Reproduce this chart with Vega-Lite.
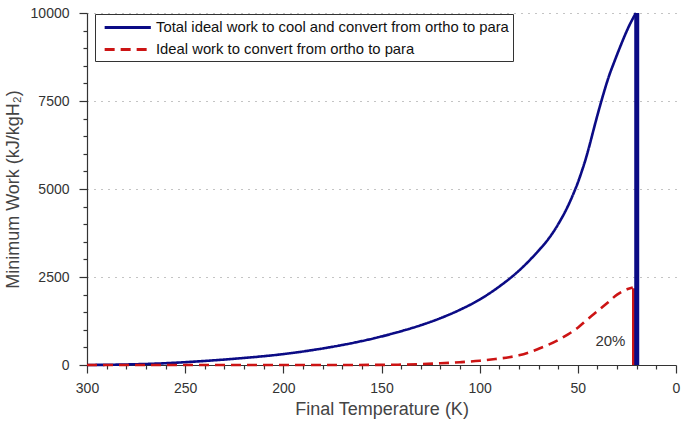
{
  "$schema": "https://vega.github.io/schema/vega-lite/v6.json",
  "width": 589,
  "height": 352,
  "autosize": {"type": "none"},
  "padding": {"left": 87, "top": 13, "right": 6, "bottom": 57},
  "background": "white",
  "config": {
    "view": {"stroke": null},
    "font": "Liberation Sans"
  },
  "datasets": {
    "curves": [
      {"series": "Total ideal work to cool and convert from ortho to para", "T": 300, "W": 0},
      {"series": "Total ideal work to cool and convert from ortho to para", "T": 280, "W": 15},
      {"series": "Total ideal work to cool and convert from ortho to para", "T": 260, "W": 50},
      {"series": "Total ideal work to cool and convert from ortho to para", "T": 250, "W": 80},
      {"series": "Total ideal work to cool and convert from ortho to para", "T": 240, "W": 115},
      {"series": "Total ideal work to cool and convert from ortho to para", "T": 220, "W": 200},
      {"series": "Total ideal work to cool and convert from ortho to para", "T": 200, "W": 310},
      {"series": "Total ideal work to cool and convert from ortho to para", "T": 180, "W": 470},
      {"series": "Total ideal work to cool and convert from ortho to para", "T": 160, "W": 680},
      {"series": "Total ideal work to cool and convert from ortho to para", "T": 150, "W": 810},
      {"series": "Total ideal work to cool and convert from ortho to para", "T": 140, "W": 960},
      {"series": "Total ideal work to cool and convert from ortho to para", "T": 130, "W": 1130},
      {"series": "Total ideal work to cool and convert from ortho to para", "T": 120, "W": 1330},
      {"series": "Total ideal work to cool and convert from ortho to para", "T": 110, "W": 1570},
      {"series": "Total ideal work to cool and convert from ortho to para", "T": 100, "W": 1860},
      {"series": "Total ideal work to cool and convert from ortho to para", "T": 90, "W": 2230},
      {"series": "Total ideal work to cool and convert from ortho to para", "T": 80, "W": 2680},
      {"series": "Total ideal work to cool and convert from ortho to para", "T": 70, "W": 3250},
      {"series": "Total ideal work to cool and convert from ortho to para", "T": 65, "W": 3580},
      {"series": "Total ideal work to cool and convert from ortho to para", "T": 60, "W": 4000},
      {"series": "Total ideal work to cool and convert from ortho to para", "T": 55, "W": 4520},
      {"series": "Total ideal work to cool and convert from ortho to para", "T": 52, "W": 4900},
      {"series": "Total ideal work to cool and convert from ortho to para", "T": 50, "W": 5180},
      {"series": "Total ideal work to cool and convert from ortho to para", "T": 48, "W": 5500},
      {"series": "Total ideal work to cool and convert from ortho to para", "T": 46, "W": 5850},
      {"series": "Total ideal work to cool and convert from ortho to para", "T": 44, "W": 6250},
      {"series": "Total ideal work to cool and convert from ortho to para", "T": 42, "W": 6680},
      {"series": "Total ideal work to cool and convert from ortho to para", "T": 40, "W": 7100},
      {"series": "Total ideal work to cool and convert from ortho to para", "T": 38, "W": 7500},
      {"series": "Total ideal work to cool and convert from ortho to para", "T": 36, "W": 7880},
      {"series": "Total ideal work to cool and convert from ortho to para", "T": 34, "W": 8230},
      {"series": "Total ideal work to cool and convert from ortho to para", "T": 32, "W": 8530},
      {"series": "Total ideal work to cool and convert from ortho to para", "T": 30, "W": 8820},
      {"series": "Total ideal work to cool and convert from ortho to para", "T": 28, "W": 9100},
      {"series": "Total ideal work to cool and convert from ortho to para", "T": 26, "W": 9370},
      {"series": "Total ideal work to cool and convert from ortho to para", "T": 24, "W": 9620},
      {"series": "Total ideal work to cool and convert from ortho to para", "T": 22, "W": 9840},
      {"series": "Total ideal work to cool and convert from ortho to para", "T": 20.4, "W": 10000},
      {"series": "Ideal work to convert from ortho to para", "T": 300, "W": 0},
      {"series": "Ideal work to convert from ortho to para", "T": 200, "W": 0},
      {"series": "Ideal work to convert from ortho to para", "T": 150, "W": 3},
      {"series": "Ideal work to convert from ortho to para", "T": 140, "W": 10},
      {"series": "Ideal work to convert from ortho to para", "T": 130, "W": 25},
      {"series": "Ideal work to convert from ortho to para", "T": 120, "W": 48},
      {"series": "Ideal work to convert from ortho to para", "T": 110, "W": 80},
      {"series": "Ideal work to convert from ortho to para", "T": 100, "W": 122},
      {"series": "Ideal work to convert from ortho to para", "T": 92, "W": 170},
      {"series": "Ideal work to convert from ortho to para", "T": 85, "W": 220},
      {"series": "Ideal work to convert from ortho to para", "T": 80, "W": 275},
      {"series": "Ideal work to convert from ortho to para", "T": 75, "W": 355},
      {"series": "Ideal work to convert from ortho to para", "T": 70, "W": 460},
      {"series": "Ideal work to convert from ortho to para", "T": 65, "W": 575},
      {"series": "Ideal work to convert from ortho to para", "T": 60, "W": 710},
      {"series": "Ideal work to convert from ortho to para", "T": 55, "W": 870},
      {"series": "Ideal work to convert from ortho to para", "T": 50, "W": 1060},
      {"series": "Ideal work to convert from ortho to para", "T": 45, "W": 1300},
      {"series": "Ideal work to convert from ortho to para", "T": 40, "W": 1530},
      {"series": "Ideal work to convert from ortho to para", "T": 35, "W": 1760},
      {"series": "Ideal work to convert from ortho to para", "T": 30, "W": 2000},
      {"series": "Ideal work to convert from ortho to para", "T": 25, "W": 2150},
      {"series": "Ideal work to convert from ortho to para", "T": 22, "W": 2200}
    ],
    "bluebar": [{"T": 20, "W": 0, "W2": 10000}],
    "redbar": [{"T": 21.4, "W": 0, "W2": 2180}],
    "note": [{"T": 33.4, "W": 680, "label": "20%"}]
  },
  "encoding": {
    "x": {
      "field": "T", "type": "quantitative",
      "scale": {"domain": [0, 300], "reverse": true, "nice": false, "zero": false},
      "axis": {
        "orient": "bottom",
        "title": "Final Temperature (K)",
        "values": [0,10,20,30,40,50,60,70,80,90,100,110,120,130,140,150,160,170,180,190,200,210,220,230,240,250,260,270,280,290,300],
        "labelExpr": "datum.value % 50 === 0 ? datum.label : ''",
        "labelOverlap": false,
        "labelFlush": false,
        "tickSize": {"condition": {"test": "datum.value % 50 === 0", "value": 8}, "value": 4},
        "tickColor": "#333",
        "tickWidth": 1.2,
        "domainColor": "#333",
        "domainWidth": 1.2,
        "labelFontSize": 14,
        "labelColor": "#333",
        "labelPadding": 8,
        "titleFontSize": 18,
        "titleFontWeight": "normal",
        "titleColor": "#444",
        "titlePadding": 5,
        "grid": false
      }
    },
    "y": {
      "field": "W", "type": "quantitative",
      "scale": {"domain": [0, 10000], "nice": false},
      "axis": {
        "orient": "left",
        "title": "Minimum Work (kJ/kgH₂)",
        "values": [0,500,1000,1500,2000,2500,3000,3500,4000,4500,5000,5500,6000,6500,7000,7500,8000,8500,9000,9500,10000],
        "format": "d",
        "labelExpr": "datum.value % 2500 === 0 ? datum.label : ''",
        "labelOverlap": false,
        "labelFlush": false,
        "tickSize": {"condition": {"test": "datum.value % 2500 === 0", "value": 8}, "value": 4},
        "tickColor": "#333",
        "tickWidth": 1.2,
        "domainColor": "#333",
        "domainWidth": 1.2,
        "labelFontSize": 14,
        "labelColor": "#333",
        "labelPadding": 10,
        "grid": true,
        "gridDash": [1, 6],
        "gridColor": "#888",
        "gridWidth": 1,
        "gridOpacity": {"condition": {"test": "datum.value > 0 && datum.value % 2500 === 0", "value": 1}, "value": 0},
        "titleFontSize": 18,
        "titleFontWeight": "normal",
        "titleColor": "#444",
        "titlePadding": 8
      }
    }
  },
  "layer": [
    {
      "data": {"name": "curves"},
      "mark": {"type": "line", "strokeWidth": 2.6, "interpolate": "monotone"},
      "encoding": {
        "color": {
          "field": "series", "type": "nominal",
          "scale": {
            "domain": ["Total ideal work to cool and convert from ortho to para", "Ideal work to convert from ortho to para"],
            "range": ["#0b0b85", "#cc1414"]
          },
          "legend": {
            "title": null,
            "orient": "none",
            "legendX": 8,
            "legendY": 1,
            "fillColor": "white",
            "strokeColor": "#333",
            "padding": 4,
            "symbolType": "M-0.5,0H5.5",
            "symbolSize": 237,
            "symbolStrokeWidth": 3,
            "labelFontSize": 14.8,
            "labelColor": "#111",
            "labelLimit": 600,
            "rowPadding": 5,
            "labelOffset": 38
          }
        },
        "strokeDash": {
          "field": "series", "type": "nominal",
          "scale": {
            "domain": ["Total ideal work to cool and convert from ortho to para", "Ideal work to convert from ortho to para"],
            "range": [[1, 0], [10, 6]]
          },
          "legend": {
            "title": null,
            "orient": "none",
            "legendX": 8,
            "legendY": 1,
            "fillColor": "white",
            "strokeColor": "#333",
            "padding": 4,
            "symbolType": "M-0.5,0H5.5",
            "symbolSize": 237,
            "symbolStrokeWidth": 3,
            "labelFontSize": 14.8,
            "labelColor": "#111",
            "labelLimit": 600,
            "rowPadding": 5,
            "labelOffset": 38
          }
        }
      }
    },
    {
      "data": {"name": "redbar"},
      "mark": {"type": "rule", "color": "#cc1414", "strokeWidth": 4},
      "encoding": {
        "y2": {"field": "W2"}
      }
    },
    {
      "data": {"name": "bluebar"},
      "mark": {"type": "rule", "color": "#0b0b85", "strokeWidth": 5},
      "encoding": {
        "y2": {"field": "W2"}
      }
    },
    {
      "data": {"name": "note"},
      "mark": {"type": "text", "fontSize": 15, "color": "#333", "align": "center", "baseline": "middle"},
      "encoding": {
        "text": {"field": "label"}
      }
    }
  ]
}
